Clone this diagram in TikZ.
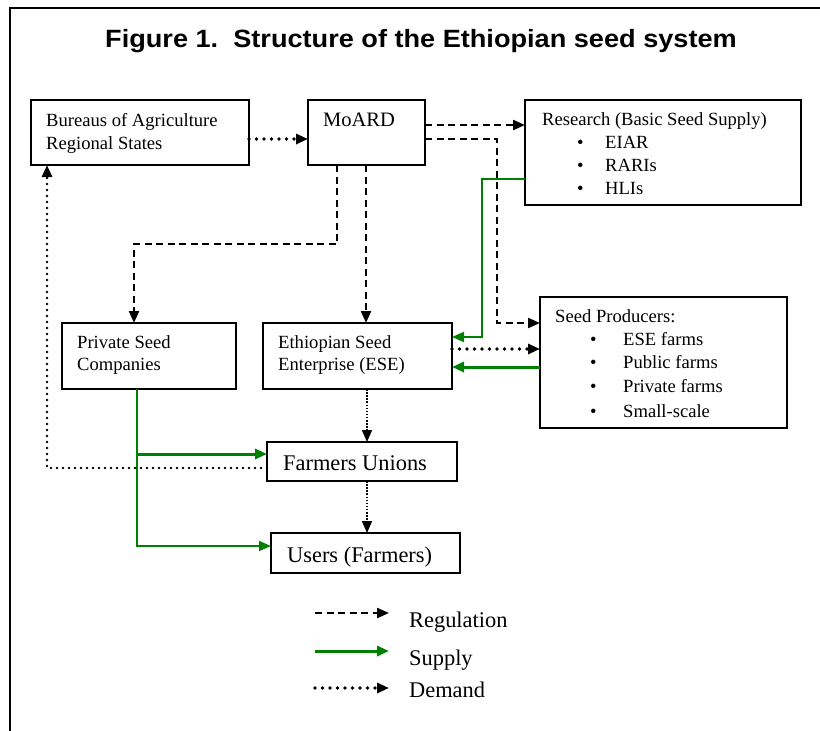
\documentclass[tikz,border=0pt]{standalone}
\usepackage{fontspec}
\setmainfont{Liberation Serif}
\newfontfamily\titlefont{Liberation Sans}
\usetikzlibrary{arrows.meta,calc}
\definecolor{supplygreen}{RGB}{0,128,0}
\tikzset{
  box/.style={draw, line width=1.5pt, rectangle, inner sep=0pt, outer sep=0pt, anchor=north west},
  txt/.style={anchor=base west, inner sep=0pt, font=\fontsize{18.6}{22}\selectfont},
  bigtxt/.style={anchor=base west, inner sep=0pt, font=\fontsize{22.4}{26}\selectfont},
  tipA/.style={-{Triangle[length=12pt,width=10pt]}},
  regarrow/.style={tipA, line width=2.2pt, dash pattern=on 7pt off 4.5pt},
  supplyarrow/.style={tipA, draw=supplygreen, line width=1.8pt},
  supplythick/.style={tipA, draw=supplygreen, line width=3pt},
  demandarrow/.style={tipA, line width=3.6pt, dash pattern=on 0pt off 7.5pt, line cap=round},
  demandmid/.style={tipA, line width=2.8pt, dash pattern=on 0pt off 6pt, line cap=round},
  demandfine/.style={tipA, line width=1.6pt, dash pattern=on 1.5pt off 1.6pt},
}
\begin{document}
\begin{tikzpicture}[x=1pt,y=-1pt]
\useasboundingbox (0,0) rectangle (820,731);
% frame
\draw[line width=2.6pt] (10,731) -- (10,8) -- (820,8);
% title
\node[font=\titlefont\bfseries\fontsize{25}{28}\selectfont, anchor=base, inner sep=0pt] (title) at (421,47) {\scalebox{1.085}[1]{Figure 1.\ \ Structure of the Ethiopian seed system}};

% boxes
\node[box, minimum width=218pt, minimum height=65pt] (bur) at (31,100) {};
\node[box, minimum width=117pt, minimum height=65pt] (moard) at (308,100) {};
\node[box, minimum width=276pt, minimum height=105pt] (res) at (525,100) {};
\node[box, minimum width=174pt, minimum height=66pt] (psc) at (62,323) {};
\node[box, minimum width=189pt, minimum height=66pt] (ese) at (263,323) {};
\node[box, minimum width=247pt, minimum height=131pt] (sp) at (540,297) {};
\node[box, minimum width=190pt, minimum height=39pt] (fu) at (267,442) {};
\node[box, minimum width=189pt, minimum height=40pt] (users) at (271,533) {};

% texts
\node[txt] (burt1) at (46,126) {Bureaus of Agriculture};
\node[txt] (burt2) at (46,149) {Regional States};
\node[txt, font=\fontsize{20.5}{24}\selectfont] (moardt) at (323,126) {MoARD};
\node[txt] (rest0) at (542,125) {Research (Basic Seed Supply)};
\node[txt] (rest1) at (577,148) {\makebox[28pt][l]{\textbullet}EIAR};
\node[txt] (rest2) at (577,171) {\makebox[28pt][l]{\textbullet}RARIs};
\node[txt] (rest3) at (577,194) {\makebox[28pt][l]{\textbullet}HLIs};
\node[txt] (pst1) at (77,348) {Private Seed};
\node[txt] (pst2) at (77,370) {Companies};
\node[txt] (eset1) at (278,348) {Ethiopian Seed};
\node[txt] (eset2) at (278,370) {Enterprise (ESE)};
\node[txt] (spt0) at (555,322) {Seed Producers:};
\node[txt] (spt1) at (590,345) {\makebox[33pt][l]{\textbullet}ESE farms};
\node[txt] (spt2) at (590,368) {\makebox[33pt][l]{\textbullet}Public farms};
\node[txt] (spt3) at (590,392) {\makebox[33pt][l]{\textbullet}Private farms};
\node[txt] (spt4) at (590,417) {\makebox[33pt][l]{\textbullet}Small-scale};
\node[bigtxt] (fut) at (283,470) {Farmers Unions};
\node[bigtxt] (userst) at (287,562) {Users (Farmers)};

% connectors
\draw[demandarrow] ($(bur.north east)+(0,39)$) -- ($(moard.north west)+(0,39)$);
\draw[regarrow] ($(moard.north east)+(0,25)$) -- ($(res.north west)+(0,25)$);
\draw[regarrow] ($(moard.north east)+(0,39)$) -- ++(72,0) |- ($(sp.north west)+(0,26)$);
\draw[regarrow] ($(moard.south west)+(29,0)$) -- ++(0,79) -| ($(psc.north west)+(72,0)$);
\coordinate (m2) at ($(moard.south west)+(58,0)$);
\draw[regarrow] (m2) -- (m2 |- ese.north);
\draw[supplyarrow] ($(res.north west)+(0,79)$) -- ++(-43,0) |- ($(ese.north east)+(0,14)$);
\draw[demandarrow] ($(ese.north east)+(0,26)$) -- ($(sp.north west)+(0,52)$);
\draw[supplythick] ($(sp.north west)+(0,70)$) -- ($(ese.north east)+(0,44)$);
\coordinate (e3) at ($(ese.south west)+(104,0)$);
\draw[demandfine] (e3) -- (e3 |- fu.north);
\coordinate (f3) at ($(fu.south west)+(100,0)$);
\draw[demandfine] (f3) -- (f3 |- users.north);
\coordinate (p1) at ($(psc.south west)+(75,0)$);
\coordinate (fuin) at ($(fu.north west)+(0,12)$);
\draw[supplyarrow] (p1) |- ($(users.north west)+(0,13)$);
\draw[supplythick] (p1 |- fuin) -- (fuin);
\draw[demandmid] ($(fu.north west)+(0,26)$) -| ($(bur.south west)+(16,0)$);

% legend
\coordinate (la1) at (315,613); \coordinate (lb1) at (389,613);
\coordinate (la2) at (315,651); \coordinate (lb2) at (389,651);
\coordinate (la3) at (315,688); \coordinate (lb3) at (389,688);
\draw[regarrow] (la1) -- (lb1);
\draw[supplythick] (la2) -- (lb2);
\draw[demandarrow] (la3) -- (lb3);
\node[bigtxt] (lt1) at (409,627) {Regulation};
\node[bigtxt] (lt2) at (409,665) {Supply};
\node[bigtxt] (lt3) at (409,697) {Demand};
\end{tikzpicture}
\end{document}
